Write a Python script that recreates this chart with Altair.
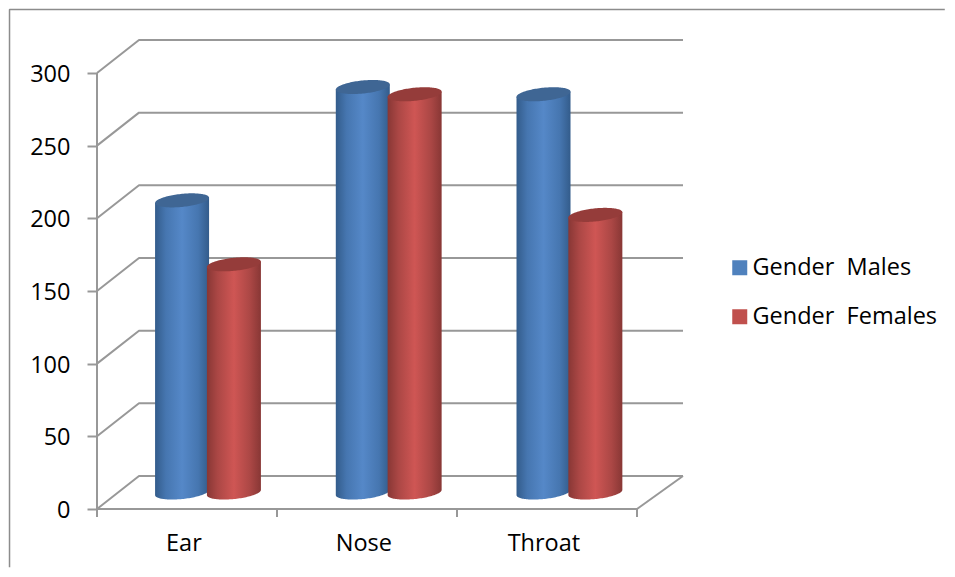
import numpy as np
import pandas as pd
import altair as alt

categories = ["Ear", "Nose", "Throat"]
series = ["Gender\u00a0\u00a0Males", "Gender\u00a0\u00a0Females"]
males = [201, 279, 274]
females = [157, 274, 191]
y_ticks = [0, 50, 100, 150, 200, 250, 300]

# depth geometry, in data units (x: one category = 1, y: value units)
DX_L, DX_R, DY = 0.2333, 0.2556, 22.7
X_MAX = 3.2556
Y_MAX = 322.0
PX_W, PX_H = 586, 468
GRID = "#989898"
FONT = "Open Sans"
FS = 23.5

# gridlines on side wall and back wall
grid_rows = []
for v in y_ticks:
    for i, (gx, gy) in enumerate([(0, v), (DX_L, v + DY), (X_MAX, v + DY)]):
        grid_rows.append({"v": v, "i": i, "x": gx, "y": gy})
grid_df = pd.DataFrame(grid_rows)

x_scale = alt.Scale(domain=[0, X_MAX], nice=False, zero=False)
y_scale = alt.Scale(domain=[0, Y_MAX], nice=False, zero=False)

label_expr = "['Ear','Nose','Throat'][floor(datum.value)]"
x_axis = alt.Axis(values=[0.48, 1.48, 2.48], labelExpr=label_expr, ticks=False, domain=False, grid=False,
                  title=None, labelFontSize=FS, labelFont=FONT, labelColor="#000000", labelPadding=22,
                  labelAngle=0)
y_axis = alt.Axis(values=y_ticks, tickSize=10, tickWidth=2, tickColor=GRID, domain=False, grid=False,
                  title=None, labelFontSize=FS, labelFont=FONT, labelColor="#000000", labelPadding=17,
                  labelOffset=1.5)

grid = alt.Chart(grid_df).mark_line(color=GRID, strokeWidth=2, clip=False, strokeJoin="bevel").encode(
    x=alt.X("x:Q", scale=x_scale, axis=x_axis),
    y=alt.Y("y:Q", scale=y_scale, axis=y_axis),
    detail="v:N",
    order="i:Q",
)

# front axis lines and floor edge
edges_df = pd.DataFrame([
    {"e": "left", "i": 0, "x": 0, "y": 0}, {"e": "left", "i": 1, "x": 0, "y": 300},
    {"e": "bottom", "i": 0, "x": 0, "y": 0}, {"e": "bottom", "i": 1, "x": 3, "y": 0},
    {"e": "right", "i": 0, "x": 3, "y": 0}, {"e": "right", "i": 1, "x": X_MAX, "y": DY},
])
edges = alt.Chart(edges_df).mark_line(color=GRID, strokeWidth=2, strokeJoin="bevel").encode(
    x=alt.X("x:Q", scale=x_scale), y=alt.Y("y:Q", scale=y_scale), detail="e:N", order="i:Q")

ticks_df = pd.DataFrame({"x": [0, 1, 2, 3], "y": [0] * 4, "y2": [-5.5] * 4})
xticks = alt.Chart(ticks_df).mark_rule(color=GRID, strokeWidth=2).encode(
    x=alt.X("x:Q", scale=x_scale), y=alt.Y("y:Q", scale=y_scale), y2="y2:Q")

# frame (top and left edges only)
frame_df = pd.DataFrame([
    {"i": 0, "x": -0.486, "y": -40.0}, {"i": 1, "x": -0.486, "y": 343.7}, {"i": 2, "x": 4.71, "y": 343.7},
])
frame = alt.Chart(frame_df).mark_line(color="#8c8c8c", strokeWidth=1.5, strokeJoin="bevel").encode(
    x=alt.X("x:Q", scale=x_scale), y=alt.Y("y:Q", scale=y_scale), order="i:Q")

# cylinders
HALF_W, SEMI, TILT = 0.15, 4.5, 1.8
SPACING = 1.004
BASE = DY / 2
t = np.cos(np.linspace(np.pi, 0, 61))
arc = np.sqrt(np.clip(1 - t ** 2, 0, 1))


def cylinder_tables(values, offset):
    body, cap = [], []
    for i, (cat, val) in enumerate(zip(categories, values)):
        cx = i * SPACING + 0.5 + offset + DX_L / 2
        top = val + BASE
        for tt, a in zip(t, arc):
            x = cx + HALF_W * tt
            body.append({"cat": cat, "x": x, "y": top + TILT * tt, "y2": BASE + TILT * tt - SEMI * a})
            cap.append({"cat": cat, "x": x, "y": top + TILT * tt + SEMI * a, "y2": top + TILT * tt - SEMI * a})
    return pd.DataFrame(body), pd.DataFrame(cap)


def gradient(dark, mid, light):
    return alt.Gradient(gradient="linear", x1=0, x2=1, y1=0, y2=0, stops=[
        alt.GradientStop(color=dark, offset=0), alt.GradientStop(color=mid, offset=0.2),
        alt.GradientStop(color=light, offset=0.5), alt.GradientStop(color=mid, offset=0.8),
        alt.GradientStop(color=dark, offset=1)])


def cylinder_layers(values, offset, grad, cap_color):
    body_df, cap_df = cylinder_tables(values, offset)
    enc = dict(x=alt.X("x:Q", scale=x_scale),
               y=alt.Y("y:Q", scale=y_scale, stack=None),
               y2="y2:Q", detail="cat:N")
    body = alt.Chart(body_df).mark_area(color=grad, orient="vertical").encode(**enc)
    cap = alt.Chart(cap_df).mark_area(color=cap_color, orient="vertical").encode(**enc)
    return [body, cap]


blue = cylinder_layers(males, -0.144, gradient("#335c8b", "#4676b0", "#5588c8"), "#3f6694")
red = cylinder_layers(females, 0.144, gradient("#883735", "#ab4745", "#cf5654"), "#953c3a")

# legend carrier
legend_df = pd.DataFrame({"s": series, "x": [0, 0], "y": [0, 0]})
legend_layer = alt.Chart(legend_df).mark_point(filled=True, shape="square", opacity=0).encode(
    x=alt.X("x:Q", scale=x_scale),
    y=alt.Y("y:Q", scale=y_scale),
    color=alt.Color("s:N", scale=alt.Scale(domain=series, range=["#4f81bd", "#c0504d"]),
                    legend=alt.Legend(title=None, orient="none", legendX=631, legendY=215,
                                      symbolType="square", symbolSize=225, symbolOpacity=1,
                                      symbolStrokeWidth=0, labelFont=FONT, labelFontSize=FS,
                                      labelColor="#000000", rowPadding=24, labelOffset=1,
                                      labelLimit=300)),
)

chart = alt.layer(frame, grid, edges, xticks, *blue, *red, legend_layer).properties(
    width=PX_W, height=PX_H, padding=0
).configure_view(stroke=None)

chart.save("out.html", embed_options={"renderer": "svg", "actions": False})
